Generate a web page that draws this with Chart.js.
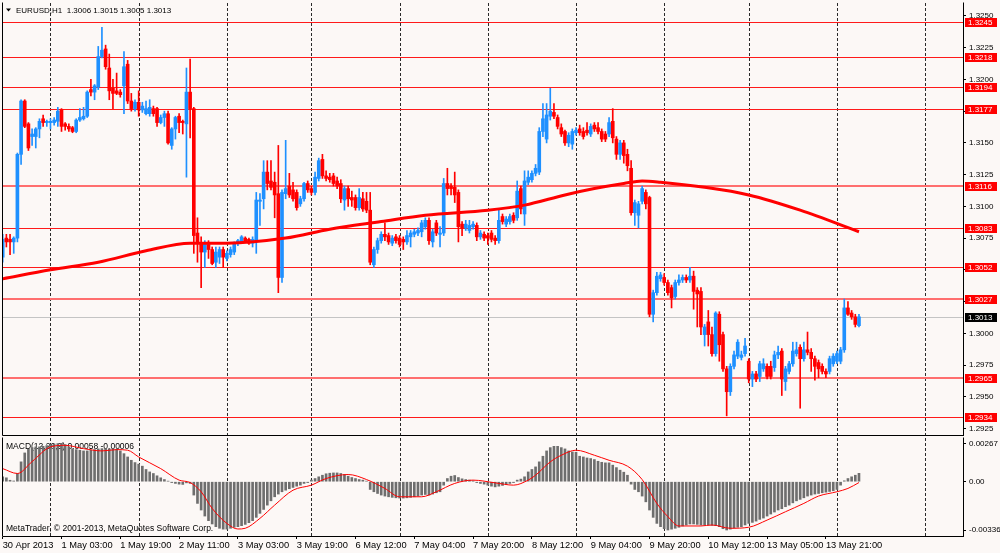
<!DOCTYPE html>
<html>
<head>
<meta charset="utf-8">
<title>EURUSD,H1</title>
<script src="https://cdn.jsdelivr.net/npm/chart.js@4.4.1/dist/chart.umd.min.js"></script>
<style>
  html, body { margin: 0; padding: 0; }
  body { width: 1000px; height: 553px; overflow: hidden; position: relative; background: #fcf8f6; }
  #pricebox { position: absolute; left: 0; top: 0; width: 1000px; height: 438px; }
  #macdbox { position: absolute; left: 0; top: 437px; width: 1000px; height: 116px; }
</style>
</head>
<body>
<div id="pricebox"><canvas id="price"></canvas></div>
<div id="macdbox"><canvas id="macd"></canvas></div>
<script>
// ---- data (bar index 0 = 30 Apr 2013 11:00, H1) ----
const opens = [
  1.3060,1.3075,1.3074,1.3072,1.3075,1.3141,1.3183,1.3165,1.3155,1.3155,
  1.3161,1.3169,1.3166,1.3166,1.3166,1.3167,1.3176,1.3165,1.3163,1.3162,
  1.3159,1.3168,1.3169,1.3171,1.3192,1.3190,1.3194,1.3218,1.3224,1.3209,
  1.3193,1.3191,1.3190,1.3195,1.3212,1.3183,1.3177,1.3182,1.3176,1.3173,
  1.3173,1.3177,1.3177,1.3166,1.3170,1.3173,1.3148,1.3161,1.3171,1.3167,
  1.3165,1.3190,1.3177,1.3079,1.3071,1.3064,1.3070,1.3066,1.3056,1.3060,
  1.3066,1.3059,1.3062,1.3064,1.3071,1.3072,1.3075,1.3074,1.3071,1.3072,
  1.3104,1.3106,1.3127,1.3120,1.3119,1.3110,1.3044,1.3110,1.3116,1.3113,
  1.3111,1.3102,1.3106,1.3118,1.3114,1.3111,1.3122,1.3137,1.3124,1.3123,
  1.3124,1.3120,1.3118,1.3105,1.3114,1.3107,1.3107,1.3099,1.3106,1.3104,
  1.3097,1.3054,1.3066,1.3073,1.3078,1.3077,1.3071,1.3076,1.3075,1.3074,
  1.3072,1.3076,1.3078,1.3079,1.3080,1.3084,1.3089,1.3072,1.3087,1.3078,
  1.3079,1.3118,1.3116,1.3115,1.3111,1.3086,1.3083,1.3081,1.3084,1.3085,
  1.3076,1.3078,1.3077,1.3079,1.3075,1.3073,1.3092,1.3086,1.3088,1.3093,
  1.3091,1.3114,1.3094,1.3119,1.3121,1.3126,1.3127,1.3159,1.3153,1.3171,
  1.3174,1.3170,1.3162,1.3159,1.3150,1.3149,1.3158,1.3161,1.3159,1.3160,
  1.3157,1.3164,1.3162,1.3159,1.3157,1.3157,1.3167,1.3153,1.3141,1.3150,
  1.3141,1.3130,1.3095,1.3093,1.3104,1.3111,1.3107,1.3015,1.3032,1.3043,
  1.3044,1.3040,1.3036,1.3029,1.3040,1.3042,1.3044,1.3042,1.3045,1.3034,
  1.3033,1.2999,1.3009,1.2999,1.2984,1.3015,1.2999,1.2972,1.2954,1.2974,
  1.2982,1.2981,1.2984,1.2978,1.2964,1.2968,1.2966,1.2972,1.2974,1.2974,
  1.2973,1.2983,1.2986,1.2962,1.2970,1.2976,1.2984,1.2989,1.2980,1.2987,
  1.2985,1.2980,1.2977,1.2974,1.2970,1.2970,1.2976,1.2978,1.2978,1.2987,
  1.3020,1.3016,1.3013,1.3006
];
const highs = [
  1.3078,1.3078,1.3078,1.3076,1.3142,1.3184,1.3184,1.3166,1.3161,1.3162,
  1.3169,1.3172,1.3168,1.3169,1.3170,1.3178,1.3177,1.3166,1.3165,1.3163,
  1.3169,1.3177,1.3178,1.3191,1.3200,1.3196,1.3226,1.3241,1.3227,1.3220,
  1.3200,1.3205,1.3192,1.3222,1.3215,1.3189,1.3184,1.3191,1.3182,1.3183,
  1.3184,1.3179,1.3178,1.3172,1.3175,1.3175,1.3162,1.3171,1.3173,1.3168,
  1.3209,1.3216,1.3178,1.3091,1.3076,1.3073,1.3073,1.3068,1.3068,1.3068,
  1.3068,1.3065,1.3068,1.3072,1.3074,1.3077,1.3076,1.3075,1.3076,1.3111,
  1.3110,1.3136,1.3136,1.3136,1.3127,1.3148,1.3113,1.3152,1.3126,1.3119,
  1.3113,1.3108,1.3119,1.3120,1.3116,1.3127,1.3138,1.3141,1.3128,1.3126,
  1.3126,1.3123,1.3121,1.3116,1.3116,1.3112,1.3109,1.3114,1.3111,1.3111,
  1.3111,1.3068,1.3075,1.3080,1.3087,1.3079,1.3077,1.3078,1.3077,1.3076,
  1.3081,1.3081,1.3082,1.3083,1.3089,1.3091,1.3091,1.3082,1.3089,1.3084,
  1.3122,1.3130,1.3118,1.3127,1.3113,1.3088,1.3089,1.3089,1.3088,1.3087,
  1.3081,1.3080,1.3079,1.3081,1.3077,1.3097,1.3094,1.3092,1.3094,1.3095,
  1.3120,1.3116,1.3128,1.3128,1.3128,1.3133,1.3162,1.3181,1.3181,1.3193,
  1.3181,1.3172,1.3165,1.3160,1.3158,1.3161,1.3162,1.3164,1.3162,1.3166,
  1.3165,1.3166,1.3166,1.3161,1.3159,1.3170,1.3177,1.3155,1.3152,1.3152,
  1.3145,1.3136,1.3105,1.3104,1.3116,1.3113,1.3108,1.3034,1.3048,1.3048,
  1.3047,1.3042,1.3038,1.3042,1.3046,1.3046,1.3046,1.3052,1.3049,1.3036,
  1.3036,1.3007,1.3018,1.3005,1.3017,1.3017,1.3001,1.2974,1.2976,1.2986,
  1.2995,1.2986,1.2996,1.2980,1.2970,1.2970,1.2978,1.2980,1.2976,1.2978,
  1.2986,1.2990,1.2988,1.2974,1.2978,1.2993,1.2993,1.2991,1.2993,1.3001,
  1.2988,1.2982,1.2979,1.2976,1.2972,1.2982,1.2984,1.2986,1.2989,1.3027,
  1.3025,1.3018,1.3015,1.3015
];
const lows = [
  1.3056,1.3068,1.3062,1.3063,1.3072,1.3133,1.3162,1.3144,1.3148,1.3146,
  1.3154,1.3163,1.3163,1.3161,1.3164,1.3163,1.3159,1.3160,1.3159,1.3158,
  1.3158,1.3167,1.3168,1.3170,1.3187,1.3184,1.3192,1.3217,1.3208,1.3184,
  1.3177,1.3188,1.3186,1.3173,1.3181,1.3175,1.3175,1.3171,1.3174,1.3172,
  1.3171,1.3171,1.3163,1.3165,1.3163,1.3149,1.3145,1.3153,1.3158,1.3157,
  1.3123,1.3154,1.3063,1.3056,1.3036,1.3052,1.3059,1.3054,1.3052,1.3055,
  1.3052,1.3057,1.3060,1.3062,1.3069,1.3071,1.3072,1.3070,1.3068,1.3063,
  1.3085,1.3098,1.3113,1.3113,1.3091,1.3032,1.3040,1.3106,1.3107,1.3104,
  1.3097,1.3100,1.3104,1.3111,1.3109,1.3109,1.3120,1.3122,1.3120,1.3119,
  1.3116,1.3114,1.3103,1.3097,1.3100,1.3100,1.3097,1.3097,1.3096,1.3095,
  1.3054,1.3052,1.3063,1.3071,1.3073,1.3070,1.3069,1.3071,1.3068,1.3066,
  1.3070,1.3068,1.3076,1.3077,1.3076,1.3082,1.3070,1.3068,1.3077,1.3068,
  1.3077,1.3109,1.3109,1.3103,1.3072,1.3077,1.3081,1.3079,1.3082,1.3073,
  1.3074,1.3073,1.3070,1.3072,1.3070,1.3071,1.3086,1.3084,1.3086,1.3087,
  1.3089,1.3094,1.3085,1.3117,1.3119,1.3124,1.3125,1.3155,1.3150,1.3168,
  1.3169,1.3161,1.3155,1.3148,1.3147,1.3145,1.3156,1.3156,1.3153,1.3156,
  1.3155,1.3159,1.3157,1.3151,1.3151,1.3155,1.3150,1.3137,1.3137,1.3134,
  1.3128,1.3093,1.3085,1.3083,1.3102,1.3098,1.3013,1.3009,1.3030,1.3041,
  1.3038,1.3030,1.3020,1.3027,1.3038,1.3040,1.3040,1.3040,1.3019,1.3005,
  1.2999,1.2990,1.2990,1.2982,1.2982,1.2978,1.2970,1.2935,1.2951,1.2972,
  1.2980,1.2979,1.2982,1.2961,1.2958,1.2962,1.2962,1.2970,1.2964,1.2964,
  1.2970,1.2980,1.2951,1.2955,1.2968,1.2974,1.2982,1.2941,1.2978,1.2983,
  1.2970,1.2963,1.2965,1.2968,1.2965,1.2968,1.2974,1.2976,1.2976,1.2985,
  1.3014,1.3011,1.3005,1.3005
];
const closes = [
  1.3074,1.3072,1.3072,1.3075,1.3141,1.3183,1.3163,1.3146,1.3157,1.3161,
  1.3167,1.3166,1.3167,1.3167,1.3168,1.3175,1.3163,1.3163,1.3161,1.3159,
  1.3168,1.3170,1.3171,1.3190,1.3190,1.3195,1.3218,1.3223,1.3210,1.3191,
  1.3189,1.3189,1.3188,1.3210,1.3183,1.3177,1.3182,1.3176,1.3179,1.3177,
  1.3178,1.3173,1.3166,1.3170,1.3173,1.3150,1.3161,1.3170,1.3166,1.3166,
  1.3190,1.3177,1.3077,1.3071,1.3064,1.3071,1.3066,1.3055,1.3064,1.3066,
  1.3060,1.3063,1.3066,1.3071,1.3073,1.3076,1.3073,1.3071,1.3074,1.3105,
  1.3105,1.3127,1.3118,1.3115,1.3109,1.3044,1.3111,1.3114,1.3109,1.3106,
  1.3099,1.3106,1.3118,1.3113,1.3111,1.3123,1.3136,1.3124,1.3122,1.3121,
  1.3118,1.3116,1.3106,1.3114,1.3106,1.3105,1.3099,1.3107,1.3098,1.3097,
  1.3056,1.3066,1.3073,1.3078,1.3076,1.3072,1.3075,1.3073,1.3070,1.3072,
  1.3077,1.3079,1.3080,1.3081,1.3087,1.3089,1.3073,1.3080,1.3079,1.3079,
  1.3118,1.3114,1.3114,1.3109,1.3084,1.3083,1.3086,1.3085,1.3086,1.3076,
  1.3079,1.3075,1.3075,1.3074,1.3073,1.3089,1.3088,1.3090,1.3092,1.3089,
  1.3112,1.3098,1.3120,1.3123,1.3126,1.3130,1.3159,1.3169,1.3172,1.3175,
  1.3171,1.3163,1.3157,1.3150,1.3156,1.3159,1.3160,1.3158,1.3155,1.3158,
  1.3163,1.3161,1.3159,1.3153,1.3153,1.3166,1.3154,1.3141,1.3150,1.3140,
  1.3132,1.3095,1.3103,1.3102,1.3114,1.3102,1.3015,1.3032,1.3045,1.3046,
  1.3040,1.3032,1.3028,1.3040,1.3042,1.3044,1.3042,1.3045,1.3033,1.3031,
  1.3005,1.3005,1.2999,1.2984,1.3016,1.2991,1.2972,1.2954,1.2974,1.2983,
  1.2993,1.2983,1.2990,1.2964,1.2968,1.2964,1.2976,1.2976,1.2966,1.2966,
  1.2983,1.2985,1.2964,1.2972,1.2976,1.2986,1.2987,1.2980,1.2987,1.2985,
  1.2980,1.2974,1.2972,1.2970,1.2968,1.2980,1.2982,1.2984,1.2987,1.3020,
  1.3015,1.3013,1.3007,1.3013
];

// moving average, read at a few bars
const maIdx  = [0, 13, 26, 39, 51, 61, 77, 89, 103, 115, 132, 142, 153, 161, 169, 174, 179, 191, 203, 217, 233];
const maVals = [1.3043, 1.3050, 1.3056, 1.3065, 1.3071, 1.3071, 1.3075, 1.3082, 1.3088, 1.3093, 1.3097,
                1.3101, 1.3109, 1.3114, 1.3118, 1.3120, 1.3119, 1.3115, 1.3109, 1.3097, 1.3080];

// MACD(12,26,9) histogram, one per bar
const macdHist = [
  0.00034,0.00027,0.00010,0.00005,0.00057,0.00138,0.00200,0.00225,0.00237,0.00242,
  0.00242,0.00246,0.00251,0.00258,0.00262,0.00265,0.00267,0.00258,0.00242,0.00230,
  0.00223,0.00219,0.00214,0.00214,0.00219,0.00223,0.00228,0.00230,0.00230,0.00228,
  0.00228,0.00225,0.00214,0.00195,0.00172,0.00149,0.00133,0.00122,0.00108,0.00085,
  0.00068,0.00057,0.00041,0.00027,0.00015,0.00004,-0.00006,-0.00012,-0.00017,-0.00019,
  -0.00008,-0.00012,-0.00093,-0.00151,-0.00197,-0.00239,-0.00271,-0.00294,-0.00313,-0.00324,
  -0.00330,-0.00330,-0.00324,-0.00317,-0.00313,-0.00306,-0.00297,-0.00285,-0.00271,-0.00248,
  -0.00220,-0.00193,-0.00163,-0.00133,-0.00105,-0.00086,-0.00070,-0.00059,-0.00049,-0.00040,
  -0.00031,-0.00024,-0.00012,-0.00006,0.00011,0.00022,0.00034,0.00045,0.00055,0.00059,
  0.00061,0.00061,0.00057,0.00050,0.00038,0.00029,0.00022,0.00015,0.00011,0.00004,
  -0.00054,-0.00070,-0.00082,-0.00093,-0.00100,-0.00105,-0.00109,-0.00112,-0.00114,-0.00114,
  -0.00112,-0.00109,-0.00105,-0.00100,-0.00093,-0.00089,-0.00093,-0.00086,-0.00077,-0.00070,
  -0.00024,0.00022,0.00038,0.00043,0.00029,0.00020,0.00015,0.00011,0.00006,-0.00006,
  -0.00012,-0.00017,-0.00024,-0.00031,-0.00036,-0.00031,-0.00026,-0.00019,-0.00012,-0.00006,
  0.00011,0.00018,0.00034,0.00068,0.00085,0.00103,0.00138,0.00177,0.00214,0.00237,
  0.00246,0.00246,0.00237,0.00228,0.00214,0.00207,0.00205,0.00177,0.00172,0.00165,
  0.00161,0.00154,0.00142,0.00135,0.00131,0.00131,0.00115,0.00098,0.00080,0.00066,
  0.00045,-0.00017,-0.00054,-0.00070,-0.00100,-0.00140,-0.00197,-0.00248,-0.00290,-0.00313,
  -0.00327,-0.00336,-0.00330,-0.00324,-0.00317,-0.00308,-0.00301,-0.00294,-0.00294,-0.00297,
  -0.00301,-0.00301,-0.00301,-0.00304,-0.00306,-0.00313,-0.00327,-0.00336,-0.00330,-0.00322,
  -0.00317,-0.00313,-0.00301,-0.00290,-0.00283,-0.00274,-0.00262,-0.00253,-0.00239,-0.00225,
  -0.00211,-0.00197,-0.00188,-0.00174,-0.00163,-0.00147,-0.00133,-0.00123,-0.00112,-0.00100,
  -0.00093,-0.00086,-0.00082,-0.00077,-0.00073,-0.00068,-0.00063,-0.00054,-0.00024,0.00006,
  0.00022,0.00034,0.00045,0.00058
];
// MACD signal line, read at a few bars
const sigIdx  = [0,4,8,13,17,22,27,31,34,37,43,48,51,54,57,61,64,66,70,74,79,84,88,94,99,104,108,114,118,123,
                 128,134,139,143,145,149,152,156,161,165,170,174,178,181,184,190,193,198,203,208,213,218,222,227,230,233];
const sigVals = [0.00091,0.00057,0.00140,0.00242,0.00253,0.00230,0.00214,0.00223,0.00219,0.00172,
                 0.00091,0.00011,-0.00006,-0.00070,-0.00186,-0.00290,-0.00329,-0.00324,-0.00255,-0.00163,
                 -0.00059,-0.00024,0.00022,0.00050,0.00015,-0.00047,-0.00105,-0.00105,-0.00070,-0.00012,
                 0.00011,-0.00008,-0.00024,0.00011,0.00045,0.00138,0.00184,0.00219,0.00184,0.00149,
                 0.00108,0.00015,-0.00151,-0.00243,-0.00308,-0.00308,-0.00301,-0.00324,-0.00317,-0.00267,
                 -0.00209,-0.00151,-0.00100,-0.00070,-0.00047,-0.00006];

// axis ticks
const timeTicks  = [0, 16, 32, 48, 64, 80, 96, 112, 128, 144, 160, 176, 192, 208, 224];
const timeLabels = ['30 Apr 2013', '1 May 03:00', '1 May 19:00', '2 May 11:00', '3 May 03:00', '3 May 19:00',
                    '6 May 12:00', '7 May 04:00', '7 May 20:00', '8 May 12:00', '9 May 04:00', '9 May 20:00',
                    '10 May 12:00', '13 May 05:00', '13 May 21:00'];
const dayStarts  = [13, 37, 61, 84, 108, 132, 156, 180, 203, 227, 251];
const priceTicks = [1.3250, 1.3225, 1.3200, 1.3175, 1.3150, 1.3125, 1.3100, 1.3075, 1.3050, 1.3025,
                    1.3000, 1.2975, 1.2950, 1.2925];
const levels     = [1.3245, 1.3218, 1.3194, 1.3177, 1.3116, 1.3083, 1.3052, 1.3027, 1.2965, 1.2934];
const bid        = 1.3013;
const macdTicks  = [0.00267, 0, -0.00336];
const macdLabels = ['0.00267', '0.00', '-0.00336'];

// ---- look ----
const BULL = '#1e90ff';
const BEAR = '#ff0000';
const X_MIN = 0.0816, X_MAX = 261.306;      // bar index at plot edges
const P_MIN = 1.29199, P_MAX = 1.32602;
const M_MIN = -0.003777, M_MAX = 0.003039;
const softLevels = [1.3116, 1.3027, 1.2965];

Chart.defaults.font.family = "'Liberation Sans', Arial, sans-serif";
Chart.defaults.color = '#000';

const candleColors = closes.map((c, i) => (c >= opens[i] ? BULL : BEAR));

// keep the plot area exactly where the frame is: no label overhang padding
function noOverhang(s) {
  s.paddingTop = 0; s.paddingBottom = 0; s.paddingLeft = 0; s.paddingRight = 0;
}

function dayLines(ctx, area, x) {
  ctx.strokeStyle = '#2a2a2a';
  ctx.lineWidth = 1;
  ctx.setLineDash([3, 2]);
  dayStarts.forEach((d) => {
    const px = Math.round(x.getPixelForValue(d)) + 0.5;
    ctx.beginPath();
    ctx.moveTo(px, area.top);
    ctx.lineTo(px, area.bottom);
    ctx.stroke();
  });
  ctx.setLineDash([]);
}

function frame(ctx, area) {
  ctx.strokeStyle = '#000';
  ctx.lineWidth = 1;
  ctx.beginPath();
  ctx.moveTo(area.left - 0.5, area.top - 0.5);
  ctx.lineTo(area.left - 0.5, area.bottom + 0.5);
  ctx.lineTo(area.right + 0.5, area.bottom + 0.5);
  ctx.lineTo(area.right + 0.5, area.top - 0.5);
  ctx.stroke();
}

function axisTag(ctx, py, text, fill) {
  ctx.fillStyle = fill;
  ctx.fillRect(965, Math.round(py) - 4, 32, 9);
  ctx.fillStyle = '#fff';
  ctx.font = "8px 'Liberation Sans', Arial, sans-serif";
  ctx.textAlign = 'left';
  ctx.textBaseline = 'middle';
  ctx.fillText(text, 968, Math.round(py) + 0.5);
}

const pricePanel = {
  id: 'pricePanel',
  beforeDatasetsDraw(chart) {
    const { ctx, chartArea: a, scales: { x, y } } = chart;
    ctx.save();
    dayLines(ctx, a, x);
    // bid line
    let py = Math.round(y.getPixelForValue(bid)) + 0.5;
    ctx.strokeStyle = '#c4c4c4';
    ctx.lineWidth = 1;
    ctx.beginPath(); ctx.moveTo(a.left, py); ctx.lineTo(a.right, py); ctx.stroke();
    // horizontal levels
    levels.forEach((v) => {
      const soft = softLevels.includes(v);
      py = soft ? Math.round(y.getPixelForValue(v)) : Math.round(y.getPixelForValue(v)) + 0.5;
      ctx.strokeStyle = soft ? '#ff6e6e' : '#ff1a1a';
      ctx.lineWidth = soft ? 2 : 1.2;
      ctx.beginPath(); ctx.moveTo(a.left, py); ctx.lineTo(a.right, py); ctx.stroke();
    });
    ctx.restore();
  },
  afterDraw(chart) {
    const { ctx, chartArea: a, scales: { y } } = chart;
    ctx.save();
    levels.forEach((v) => axisTag(ctx, y.getPixelForValue(v), v.toFixed(4), '#ff0000'));
    axisTag(ctx, y.getPixelForValue(bid), bid.toFixed(4), '#000');
    // header
    ctx.fillStyle = '#000';
    ctx.beginPath(); ctx.moveTo(6, 8.5); ctx.lineTo(11, 8.5); ctx.lineTo(8.5, 11.5); ctx.closePath(); ctx.fill();
    ctx.font = "8px 'Liberation Sans', Arial, sans-serif";
    ctx.textAlign = 'left';
    ctx.textBaseline = 'alphabetic';
    ctx.fillText('EURUSD,H1  1.3006 1.3015 1.3005 1.3013', 16, 12.5);
    frame(ctx, a);
    ctx.restore();
  }
};

const macdPanel = {
  id: 'macdPanel',
  beforeDatasetsDraw(chart) {
    const { ctx, chartArea: a, scales: { x } } = chart;
    ctx.save();
    dayLines(ctx, a, x);
    ctx.fillStyle = '#000';
    ctx.font = "8.5px 'Liberation Sans', Arial, sans-serif";
    ctx.textAlign = 'left';
    ctx.textBaseline = 'alphabetic';
    ctx.fillText('MACD(12,26,9) 0.00058 -0.00006', 6, 12);
    ctx.restore();
  },
  afterDatasetsDraw(chart) {
    const { ctx, chartArea: a } = chart;
    ctx.save();
    ctx.fillStyle = '#000';
    ctx.font = "8.5px 'Liberation Sans', Arial, sans-serif";
    ctx.textAlign = 'left';
    ctx.textBaseline = 'alphabetic';
    ctx.fillText('MetaTrader, \u00a9 2001-2013, MetaQuotes Software Corp.', 6, 94);
    frame(ctx, a);
    ctx.restore();
  }
};

new Chart(document.getElementById('price'), {
  type: 'bar',
  data: {
    datasets: [
      {
        type: 'line',
        label: 'MA',
        data: maIdx.map((b, k) => ({ x: b, y: maVals[k] })),
        borderColor: '#ff0000',
        borderWidth: 3,
        pointRadius: 0,
        cubicInterpolationMode: 'monotone',
        order: 0
      },
      {
        label: 'body',
        data: opens.map((o, i) => ({ x: i, y: [o, closes[i]] })),
        backgroundColor: candleColors,
        barThickness: 3,
        minBarLength: 1,
        grouped: false,
        order: 1
      },
      {
        label: 'wick',
        data: highs.map((h, i) => ({ x: i, y: [lows[i], h] })),
        backgroundColor: candleColors,
        barThickness: 1,
        grouped: false,
        order: 2
      }
    ]
  },
  options: {
    responsive: true,
    maintainAspectRatio: false,
    animation: false,
    events: [],
    layout: { padding: { left: 3, top: 3, right: 0, bottom: 3 } },
    plugins: { legend: { display: false }, tooltip: { enabled: false } },
    scales: {
      x: { type: 'linear', display: false, min: X_MIN, max: X_MAX, offset: false },
      y: {
        position: 'right',
        min: P_MIN,
        max: P_MAX,
        afterFit(s) { s.width = 37; noOverhang(s); },
        afterBuildTicks(s) { s.ticks = priceTicks.map((v) => ({ value: v })); },
        ticks: { callback: (v) => v.toFixed(4), font: { size: 8 }, color: '#000', padding: 3, autoSkip: false },
        grid: { drawOnChartArea: false, tickLength: 3, color: '#000' },
        border: { color: '#000' }
      }
    }
  },
  plugins: [pricePanel]
});

new Chart(document.getElementById('macd'), {
  type: 'bar',
  data: {
    datasets: [
      {
        type: 'line',
        label: 'Signal',
        data: sigIdx.map((b, k) => ({ x: b, y: sigVals[k] })),
        borderColor: '#ff0000',
        borderWidth: 1,
        pointRadius: 0,
        cubicInterpolationMode: 'monotone',
        order: 0
      },
      {
        label: 'MACD',
        data: macdHist.map((v, i) => ({ x: i, y: v })),
        backgroundColor: '#6e6e6e',
        barThickness: 2,
        order: 1
      }
    ]
  },
  options: {
    responsive: true,
    maintainAspectRatio: false,
    animation: false,
    events: [],
    layout: { padding: { left: 3, top: 1, right: 0, bottom: 0 } },
    plugins: { legend: { display: false }, tooltip: { enabled: false } },
    scales: {
      x: {
        type: 'linear',
        min: X_MIN,
        max: X_MAX,
        offset: false,
        afterFit(s) { s.height = 17; noOverhang(s); },
        afterBuildTicks(s) { s.ticks = timeTicks.map((v) => ({ value: v })); },
        ticks: {
          align: 'start', autoSkip: false, maxRotation: 0, minRotation: 0, padding: 1,
          callback: (v, i) => timeLabels[i], font: { size: 9.3 }, color: '#000'
        },
        grid: { drawOnChartArea: false, tickLength: 3, color: '#000', offset: false },
        border: { color: '#000' }
      },
      y: {
        position: 'right',
        min: M_MIN,
        max: M_MAX,
        afterFit(s) { s.width = 37; noOverhang(s); },
        afterBuildTicks(s) { s.ticks = macdTicks.map((v) => ({ value: v })); },
        ticks: { callback: (v, i) => macdLabels[i], font: { size: 8 }, color: '#000', padding: 3, autoSkip: false },
        grid: { drawOnChartArea: false, tickLength: 3, color: '#000' },
        border: { color: '#000' }
      }
    }
  },
  plugins: [macdPanel]
});
</script>
</body>
</html>
